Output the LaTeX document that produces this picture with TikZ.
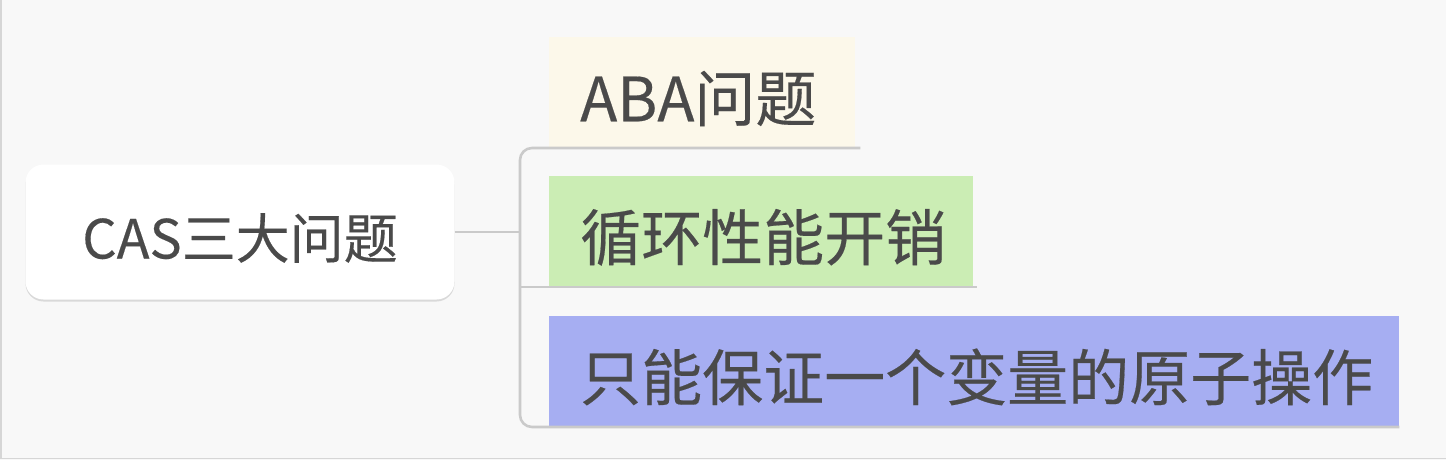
\documentclass[tikz,border=0pt]{standalone}
\usepackage{fontspec}
\newfontfamily\cjk[FakeBold=0.3]{Noto Sans CJK SC}
\usetikzlibrary{shadows}
\definecolor{bg}{HTML}{F8F8F8}
\definecolor{edge}{HTML}{D6D6D6}
\definecolor{conncol}{HTML}{CACACA}
\definecolor{txt}{HTML}{4A4A4A}
\definecolor{cream}{HTML}{FCF8EA}
\definecolor{green}{HTML}{CBEDB4}
\definecolor{blue}{HTML}{A6AEF2}
\tikzset{
  rootbox/.style={fill=white, rounded corners=18pt, minimum width=429pt, minimum height=135pt,
    font=\cjk\fontsize{54pt}{60pt}\selectfont, text=txt, inner sep=0pt,
    text height=56pt, text depth=3pt,
    drop shadow={opacity=0.12, shadow xshift=0pt, shadow yshift=-2pt, fill=black}},
  childbox/.style={anchor=south west, minimum height=111pt, inner ysep=0pt, inner xsep=31pt,
    align=left, font=\cjk\fontsize{61pt}{66pt}\selectfont, text=txt,
    text height=62pt, text depth=4pt},
  conn/.style={draw=conncol, line width=2.6pt}
}
\begin{document}
\begin{tikzpicture}[x=1pt,y=-1pt]
\useasboundingbox (0,0) rectangle (1446,460);
\fill[bg] (0,0) rectangle (1446,460);
\draw[edge, line width=1.5pt] (0.75,0) -- (0.75,458.5) -- (1446,458.5);
\node[rootbox] (root) at (240,232) {CAS三大问题};
\node[childbox, fill=cream, text width=244pt] (aba) at (549,148) {ABA问题};
\node[childbox, fill=green, text width=362pt] (loop) at (549,287) {循环性能开销};
\node[childbox, fill=blue, text width=788pt] (one) at (549,427) {只能保证一个变量的原子操作};
\coordinate (jx) at (520,0);
\draw[conn] (root.east) -- (jx |- root.east);
\draw[conn, rounded corners=12pt] ([xshift=5pt]aba.south east) -- (aba.south west) -- (jx |- aba.south) -- (jx |- one.south) -- (one.south west) -- (one.south east);
\draw[conn] (jx |- loop.south) -- ([xshift=4pt]loop.south east);
\end{tikzpicture}
\end{document}
